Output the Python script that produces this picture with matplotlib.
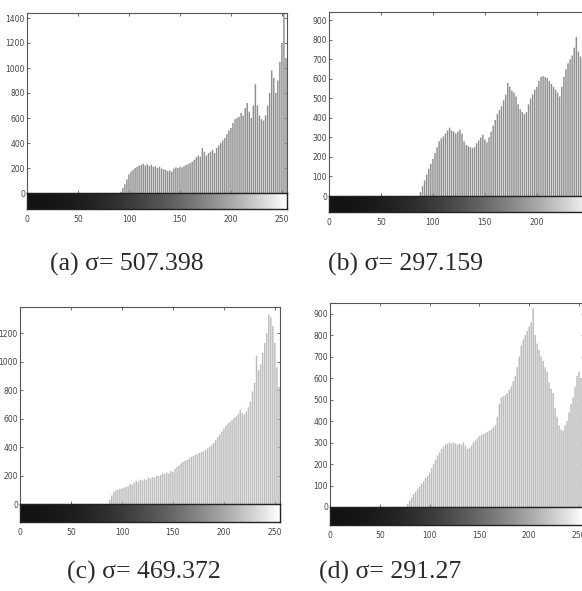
import numpy as np
import matplotlib
matplotlib.use("Agg")
import matplotlib.pyplot as plt

# gray levels (every 2nd level) and counts
levels_a = np.arange(90, 256, 2)
counts_a = [0, 10, 40, 70, 110, 150, 170, 185, 200, 210, 220, 225, 235, 220, 230, 215,
            225, 210, 215, 200, 210, 195, 190, 185, 175, 180, 170, 195, 205, 200, 210, 205,
            215, 225, 230, 240, 250, 265, 285, 300, 290, 360, 330, 300, 320, 330, 345, 320,
            360, 380, 400, 420, 440, 470, 500, 520, 560, 590, 600, 610, 640, 620, 680, 720,
            650, 600, 700, 870, 700, 620, 590, 580, 620, 700, 800, 980, 920, 800, 900, 1050,
            1200, 1500, 1080]

levels_b = np.arange(86, 256, 2)
counts_b = [0, 20, 50, 80, 110, 140, 165, 190, 220, 250, 280, 295, 305, 320, 335, 350,
            335, 330, 320, 330, 340, 320, 280, 262, 255, 250, 245, 250, 270, 285, 300, 315,
            290, 275, 300, 330, 360, 390, 420, 440, 460, 490, 520, 580, 560, 540, 530, 510,
            470, 445, 430, 420, 430, 470, 500, 520, 545, 560, 590, 610, 615, 610, 605, 590,
            575, 560, 545, 530, 510, 560, 610, 650, 680, 700, 720, 760, 815, 740, 715, 700,
            690, 670, 650, 620, 560]

levels_c = np.arange(86, 256, 2)
counts_c = [0, 30, 60, 85, 95, 100, 105, 110, 115, 120, 125, 140, 135, 150, 160, 155,
            170, 165, 175, 170, 185, 180, 190, 185, 200, 195, 205, 215, 210, 220, 215, 230,
            225, 245, 260, 270, 285, 295, 305, 310, 320, 330, 335, 345, 350, 360, 365, 370,
            380, 390, 400, 415, 430, 450, 470, 490, 510, 530, 550, 565, 575, 590, 605, 615,
            630, 660, 640, 630, 650, 680, 720, 790, 850, 1040, 940, 980, 1060, 1130, 1200, 1330,
            1310, 1250, 1130, 960, 820]

levels_d = np.arange(76, 256, 2)
counts_d = [0, 15, 30, 45, 60, 70, 85, 95, 110, 120, 135, 145, 160, 180, 200, 220,
            240, 255, 270, 280, 290, 295, 300, 295, 300, 295, 290, 295, 290, 300, 285, 270,
            275, 285, 300, 310, 320, 330, 335, 340, 345, 350, 355, 360, 370, 380, 420, 480,
            510, 515, 520, 530, 545, 560, 585, 610, 650, 700, 750, 780, 800, 820, 840, 860,
            925, 800, 760, 730, 700, 680, 650, 630, 580, 550, 530, 460, 420, 380, 360, 355,
            380, 400, 440, 480, 510, 560, 610, 630, 600, 520]

captions = ["(a) σ= 507.398", "(b) σ= 297.159", "(c) σ= 469.372", "(d) σ= 291.27"]
y_tops = [1440, 943, 1383, 949]
y_steps = [200, 100, 200, 100]
x_ticks = [0, 50, 100, 150, 200, 250]

W, H = 582, 591
fig = plt.figure(figsize=(W / 100, H / 100), dpi=100)

# pixel boxes: left, width, top, hist bottom, colorbar bottom
boxes = [(27, 260, 13, 193, 209),
         (329, 265, 12, 196, 212),
         (20, 260, 307, 504, 522),
         (330, 254, 303, 507, 525)]
colors = ['#8f8f8f', '#8f8f8f', '#bcbcbc', '#bcbcbc']
levels = [levels_a, levels_b, levels_c, levels_d]
counts = [counts_a, counts_b, counts_c, counts_d]

grad = (np.arange(256) / 255.0) ** 1.9
grad = grad[np.newaxis, :]

for i in range(4):
    l, w, t, b, cb = boxes[i]
    ax = fig.add_axes([l / W, 1 - b / H, w / W, (b - t) / H])
    vl = ax.vlines(levels[i], 0, counts[i], colors=colors[i], linewidth=1.05)
    vl.set_snap(False)
    ax.set_xlim(0, 255)
    ax.set_ylim(0, y_tops[i])
    ax.set_yticks(np.arange(0, y_tops[i], y_steps[i]))
    ax.set_xticks(x_ticks)
    ax.set_xticklabels([])
    ax.tick_params(direction='in', length=2.5, width=0.6, labelsize=5.5,
                   top=True, right=True, colors='#555555', labelcolor='#444444', pad=1.5)
    for s in ax.spines.values():
        s.set_color('#555555')
        s.set_linewidth(0.8)

    cax = fig.add_axes([l / W, 1 - cb / H, w / W, (cb - b) / H])
    cax.imshow(grad, aspect='auto', cmap='gray', extent=[0, 255, 0, 1], vmin=-0.08, vmax=1)
    cax.set_xlim(0, 255)
    cax.set_yticks([])
    cax.set_xticks(x_ticks)
    cax.tick_params(direction='in', length=0, labelsize=5.5, labelcolor='#444444', pad=4)
    for s in cax.spines.values():
        s.set_color('#222222')
        s.set_linewidth(1.0)

cap_pos = [(127, 264), (406, 264), (144, 572), (390, 572)]
for (cx, cy), txt in zip(cap_pos, captions):
    fig.text(cx / W, 1 - cy / H, txt, ha='center', va='center', fontsize=18.5,
             family='Liberation Serif', color='#2a2a2a')

fig.savefig("out.png", dpi=100)
